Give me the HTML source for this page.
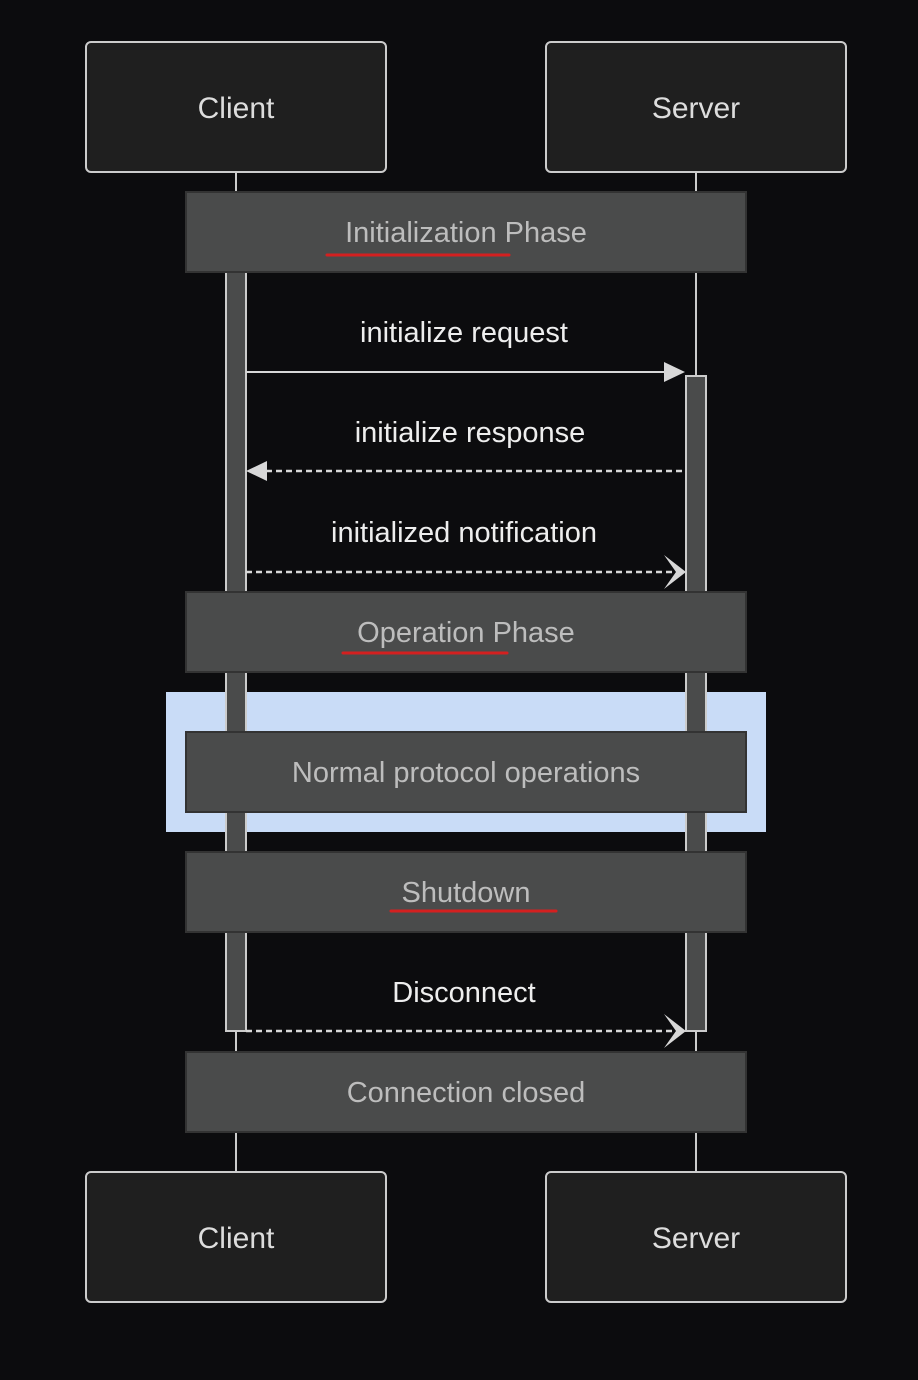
<!DOCTYPE html>
<html><head><meta charset="utf-8"><style>
html,body{margin:0;padding:0;background:#0c0c0e;}
svg{display:block;}
text{font-family:"Liberation Sans",sans-serif;}
</style></head><body>
<svg width="918" height="1380" viewBox="0 0 918 1380" xmlns="http://www.w3.org/2000/svg">
<rect width="918" height="1380" fill="#0c0c0e"/>
<!-- lifelines -->
<line x1="236" y1="172" x2="236" y2="1172" stroke="#cccccc" stroke-width="2"/>
<line x1="696" y1="172" x2="696" y2="1172" stroke="#cccccc" stroke-width="2"/>
<!-- highlight -->
<rect x="166" y="692" width="600" height="140" fill="#c9dcf7"/>
<!-- activations -->
<rect x="226" y="272" width="20" height="759" fill="#4a4b4b" stroke="#cccccc" stroke-width="2"/>
<rect x="686" y="376" width="20" height="655" fill="#4a4b4b" stroke="#cccccc" stroke-width="2"/>
<!-- actors -->
<g fill="#1f1f1f" stroke="#cccccc" stroke-width="2">
<rect x="86" y="42" width="300" height="130" rx="5"/>
<rect x="546" y="42" width="300" height="130" rx="5"/>
<rect x="86" y="1172" width="300" height="130" rx="5"/>
<rect x="546" y="1172" width="300" height="130" rx="5"/>
</g>
<g fill="#dddddd" font-size="30" text-anchor="middle">
<text x="236" y="118">Client</text>
<text x="696" y="118">Server</text>
<text x="236" y="1248">Client</text>
<text x="696" y="1248">Server</text>
</g>
<!-- notes -->
<g fill="#4a4b4b" stroke="#333" stroke-width="2">
<rect x="186" y="192" width="560" height="80"/>
<rect x="186" y="592" width="560" height="80"/>
<rect x="186" y="732" width="560" height="80"/>
<rect x="186" y="852" width="560" height="80"/>
<rect x="186" y="1052" width="560" height="80"/>
</g>
<g fill="#bdbdbd" font-size="29" text-anchor="middle">
<text x="466" y="242">Initialization Phase</text>
<text x="466" y="642">Operation Phase</text>
<text x="466" y="782">Normal protocol operations</text>
<text x="466" y="902">Shutdown</text>
<text x="466" y="1102">Connection closed</text>
</g>
<g stroke="#d42020" stroke-width="3" stroke-linecap="round">
<line x1="327" y1="255" x2="509" y2="255"/>
<line x1="343" y1="653" x2="507" y2="653"/>
<line x1="391" y1="911" x2="556" y2="911"/>
</g>
<!-- messages -->
<g fill="#eeeeee" font-size="29" text-anchor="middle">
<text x="464" y="342">initialize request</text>
<text x="470" y="442">initialize response</text>
<text x="464" y="542">initialized notification</text>
<text x="464" y="1002">Disconnect</text>
</g>
<line x1="246" y1="372" x2="666" y2="372" stroke="#d8d8d8" stroke-width="2"/>
<polygon points="664,362 685,372 664,382" fill="#d8d8d8"/>
<line x1="266" y1="471" x2="686" y2="471" stroke="#d8d8d8" stroke-width="2.5" stroke-dasharray="6,4"/>
<polygon points="267,461 246,471 267,481" fill="#d8d8d8"/>
<line x1="246" y1="572" x2="682" y2="572" stroke="#d8d8d8" stroke-width="2.5" stroke-dasharray="6,4"/>
<path d="M664,555 L686,572 L664,589 L676,572 Z" fill="#d8d8d8"/>
<line x1="246" y1="1031" x2="682" y2="1031" stroke="#d8d8d8" stroke-width="2.5" stroke-dasharray="6,4"/>
<path d="M664,1014 L686,1031 L664,1048 L676,1031 Z" fill="#d8d8d8"/>
</svg>
</body></html>
